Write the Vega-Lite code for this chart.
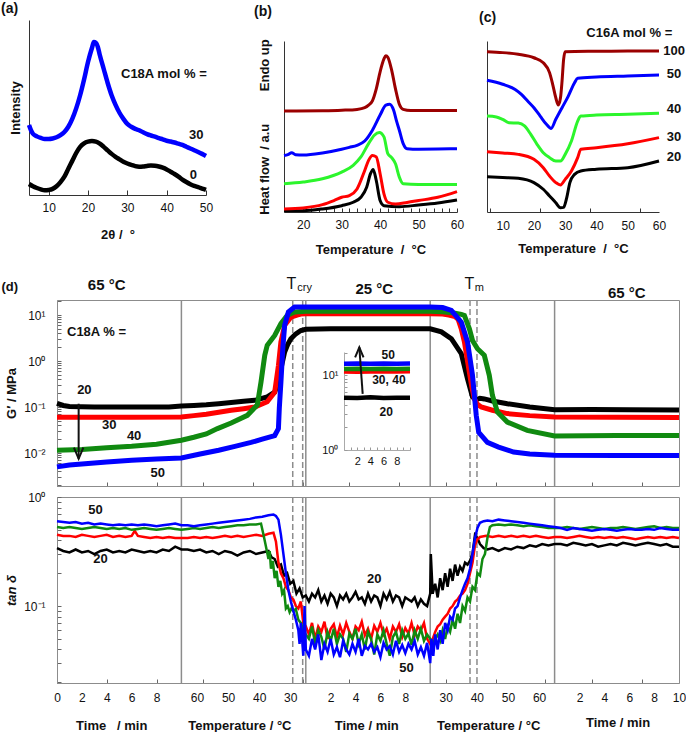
{
  "$schema": "https://vega.github.io/schema/vega-lite/v6.json",
  "background": "white",
  "padding": {"left": 0, "top": 2, "right": 4, "bottom": 4},
  "autosize": {"type": "pad"},
  "config": {
    "font": "Liberation Sans",
    "view": {"stroke": null},
    "axis": {"grid": false, "labelFont": "Liberation Sans", "labelFontSize": 12, "labelColor": "#111", "titleFont": "Liberation Sans", "titleFontSize": 13, "titleFontWeight": "bold", "titleColor": "#111", "domainColor": "#333", "tickColor": "#333", "tickSize": -4, "labelPadding": 11},
    "title": {"font": "Liberation Sans", "fontSize": 14, "fontWeight": "bold", "color": "#111", "anchor": "start", "frame": "group"},
    "text": {"font": "Liberation Sans", "fontWeight": "bold", "fontSize": 13, "color": "#111"}
  },
  "datasets": {
    "xrd": [
      {"s":"a0","x":5,"y":6.3},{"s":"a0","x":6,"y":5},{"s":"a0","x":7,"y":4},{"s":"a0","x":8,"y":3.2},{"s":"a0","x":9,"y":2.7},{"s":"a0","x":10,"y":2.9},{"s":"a0","x":11,"y":3.5},{"s":"a0","x":12,"y":5},{"s":"a0","x":13,"y":7.4},{"s":"a0","x":14,"y":10.5},{"s":"a0","x":15,"y":15},{"s":"a0","x":16,"y":19.5},{"s":"a0","x":17,"y":24},{"s":"a0","x":18,"y":27.5},{"s":"a0","x":19,"y":29.5},{"s":"a0","x":20,"y":30.5},{"s":"a0","x":21,"y":30.8},{"s":"a0","x":22,"y":30.5},{"s":"a0","x":23,"y":29.3},{"s":"a0","x":24,"y":27.5},{"s":"a0","x":25,"y":25.5},{"s":"a0","x":26,"y":23.5},{"s":"a0","x":27,"y":21.8},{"s":"a0","x":28,"y":20.4},{"s":"a0","x":29,"y":19},{"s":"a0","x":30,"y":18},{"s":"a0","x":31,"y":17.2},{"s":"a0","x":32,"y":16.5},{"s":"a0","x":33,"y":16.2},{"s":"a0","x":34,"y":16.3},{"s":"a0","x":35,"y":16.6},{"s":"a0","x":36,"y":16.8},{"s":"a0","x":37,"y":16.7},{"s":"a0","x":38,"y":16.3},{"s":"a0","x":39,"y":15.6},{"s":"a0","x":40,"y":14.6},{"s":"a0","x":41,"y":13.3},{"s":"a0","x":42,"y":12},{"s":"a0","x":43,"y":10.5},{"s":"a0","x":44,"y":8.8},{"s":"a0","x":45,"y":7.4},{"s":"a0","x":46,"y":6.2},{"s":"a0","x":47,"y":5.2},{"s":"a0","x":48,"y":4.5},{"s":"a0","x":49,"y":3.7},{"s":"a0","x":50,"y":2.9},
      {"s":"a30","x":5,"y":40},{"s":"a30","x":5.5,"y":37},{"s":"a30","x":6,"y":35},{"s":"a30","x":7,"y":33.5},{"s":"a30","x":8,"y":32.6},{"s":"a30","x":9,"y":32},{"s":"a30","x":10,"y":32},{"s":"a30","x":11,"y":32.3},{"s":"a30","x":12,"y":33},{"s":"a30","x":13,"y":34.2},{"s":"a30","x":14,"y":36},{"s":"a30","x":15,"y":39},{"s":"a30","x":16,"y":43.5},{"s":"a30","x":17,"y":49.5},{"s":"a30","x":18,"y":57},{"s":"a30","x":19,"y":66},{"s":"a30","x":20,"y":76},{"s":"a30","x":21,"y":84},{"s":"a30","x":21.5,"y":87.4},{"s":"a30","x":22,"y":87},{"s":"a30","x":22.5,"y":84.6},{"s":"a30","x":23,"y":80},{"s":"a30","x":24,"y":72},{"s":"a30","x":25,"y":64},{"s":"a30","x":26,"y":57},{"s":"a30","x":27,"y":51.5},{"s":"a30","x":28,"y":47},{"s":"a30","x":29,"y":43.5},{"s":"a30","x":30,"y":40.6},{"s":"a30","x":31,"y":39},{"s":"a30","x":32,"y":37.8},{"s":"a30","x":33,"y":37},{"s":"a30","x":34,"y":35.8},{"s":"a30","x":35,"y":34.8},{"s":"a30","x":36,"y":34},{"s":"a30","x":37,"y":33.3},{"s":"a30","x":38,"y":32.5},{"s":"a30","x":39,"y":31.8},{"s":"a30","x":40,"y":31},{"s":"a30","x":41,"y":30.6},{"s":"a30","x":42,"y":30},{"s":"a30","x":43,"y":29.3},{"s":"a30","x":44,"y":28.6},{"s":"a30","x":45,"y":27.6},{"s":"a30","x":46,"y":26.6},{"s":"a30","x":47,"y":25.6},{"s":"a30","x":48,"y":24.6},{"s":"a30","x":49,"y":23.5},{"s":"a30","x":50,"y":22.3}
    ],
    "xrdlab": [
      {"x":39.3,"y":69.1,"lab":"C18A mol % ="},{"x":47.5,"y":34.5,"lab":"30"},{"x":46.8,"y":11.3,"lab":"0"}
    ],
    "dscb": [
      {"s":"b20","x":15,"y":0.8},{"s":"b20","x":20,"y":0.8},{"s":"b20","x":25,"y":1.8},{"s":"b20","x":30,"y":3.7},{"s":"b20","x":33,"y":5.7},{"s":"b20","x":35,"y":8.6},{"s":"b20","x":36.5,"y":14.5},{"s":"b20","x":37.5,"y":22.4},{"s":"b20","x":38.2,"y":24.9},{"s":"b20","x":39,"y":18.4},{"s":"b20","x":40,"y":6.7},{"s":"b20","x":41,"y":3.7},{"s":"b20","x":45,"y":3.1},{"s":"b20","x":50,"y":4.1},{"s":"b20","x":55,"y":5.3},{"s":"b20","x":60,"y":7},
      {"s":"b30","x":15,"y":1.8},{"s":"b30","x":20,"y":2.4},{"s":"b30","x":25,"y":4.3},{"s":"b30","x":28,"y":6.7},{"s":"b30","x":30,"y":8.6},{"s":"b30","x":32,"y":9.6},{"s":"b30","x":34,"y":13.5},{"s":"b30","x":36,"y":24.3},{"s":"b30","x":37,"y":30.2},{"s":"b30","x":38,"y":33.1},{"s":"b30","x":39,"y":32.2},{"s":"b30","x":40,"y":22.4},{"s":"b30","x":41,"y":10.6},{"s":"b30","x":42,"y":5.7},{"s":"b30","x":44,"y":4.7},{"s":"b30","x":47,"y":5.6},{"s":"b30","x":50,"y":6.7},{"s":"b30","x":55,"y":8.6},{"s":"b30","x":60,"y":11.9},
      {"s":"b40","x":15,"y":16.5},{"s":"b40","x":20,"y":17.5},{"s":"b40","x":25,"y":19.4},{"s":"b40","x":30,"y":23.3},{"s":"b40","x":33,"y":27.3},{"s":"b40","x":35,"y":32.2},{"s":"b40","x":37,"y":40},{"s":"b40","x":38.5,"y":44.9},{"s":"b40","x":39.8,"y":46.5},{"s":"b40","x":41,"y":43.9},{"s":"b40","x":42,"y":34.1},{"s":"b40","x":43,"y":31.8},{"s":"b40","x":44,"y":28.2},{"s":"b40","x":45,"y":20.4},{"s":"b40","x":46,"y":16.5},{"s":"b40","x":50,"y":16.1},{"s":"b40","x":55,"y":16.1},{"s":"b40","x":60,"y":16.1},
      {"s":"b50","x":15,"y":33.1},{"s":"b50","x":16,"y":33.6},{"s":"b50","x":17,"y":34.7},{"s":"b50","x":18,"y":33.5},{"s":"b50","x":20,"y":33.3},{"s":"b50","x":25,"y":34.5},{"s":"b50","x":30,"y":36.7},{"s":"b50","x":32,"y":37.8},{"s":"b50","x":34,"y":39},{"s":"b50","x":36,"y":41.5},{"s":"b50","x":38,"y":47.8},{"s":"b50","x":40,"y":56.7},{"s":"b50","x":41.5,"y":62.5},{"s":"b50","x":42.5,"y":63},{"s":"b50","x":43.5,"y":59.6},{"s":"b50","x":44.3,"y":53},{"s":"b50","x":45,"y":47.8},{"s":"b50","x":46,"y":40},{"s":"b50","x":47,"y":37},{"s":"b50","x":50,"y":36.7},{"s":"b50","x":55,"y":36.8},{"s":"b50","x":60,"y":37},
      {"s":"b100","x":15,"y":59},{"s":"b100","x":25,"y":59.2},{"s":"b100","x":30,"y":59.5},{"s":"b100","x":34,"y":60},{"s":"b100","x":36,"y":61},{"s":"b100","x":37,"y":62.5},{"s":"b100","x":38,"y":65},{"s":"b100","x":39,"y":72},{"s":"b100","x":40,"y":82},{"s":"b100","x":41,"y":89.5},{"s":"b100","x":41.5,"y":91.4},{"s":"b100","x":42,"y":90.5},{"s":"b100","x":43,"y":83},{"s":"b100","x":44,"y":72},{"s":"b100","x":45,"y":63},{"s":"b100","x":46,"y":60},{"s":"b100","x":48,"y":59.3},{"s":"b100","x":52,"y":59.3},{"s":"b100","x":56,"y":59.3},{"s":"b100","x":60,"y":59.3}
    ],
    "dscc": [
      {"s":"b20","x":5,"y":20.6},{"s":"b20","x":10,"y":20.2},{"s":"b20","x":15,"y":19.7},{"s":"b20","x":20,"y":17.2},{"s":"b20","x":23,"y":13.3},{"s":"b20","x":25,"y":9.4},{"s":"b20","x":27,"y":5.4},{"s":"b20","x":28.5,"y":2.5},{"s":"b20","x":29.5,"y":2.7},{"s":"b20","x":30.5,"y":8.4},{"s":"b20","x":31.5,"y":17.2},{"s":"b20","x":33,"y":22},{"s":"b20","x":35,"y":24},{"s":"b20","x":40,"y":25},{"s":"b20","x":50,"y":25.9},{"s":"b20","x":60,"y":29.8},
      {"s":"b30","x":5,"y":35.3},{"s":"b30","x":10,"y":34.5},{"s":"b30","x":15,"y":33.7},{"s":"b30","x":20,"y":30.8},{"s":"b30","x":23,"y":25.9},{"s":"b30","x":25,"y":21},{"s":"b30","x":27,"y":17.2},{"s":"b30","x":28.5,"y":15.8},{"s":"b30","x":30,"y":19.1},{"s":"b30","x":32,"y":24},{"s":"b30","x":34,"y":31.8},{"s":"b30","x":35,"y":36.7},{"s":"b30","x":40,"y":37.6},{"s":"b30","x":50,"y":39.9},{"s":"b30","x":60,"y":43.5},
      {"s":"b40","x":5,"y":56.1},{"s":"b40","x":8,"y":55.6},{"s":"b40","x":10,"y":54.2},{"s":"b40","x":12,"y":52.2},{"s":"b40","x":15,"y":52},{"s":"b40","x":17,"y":50.3},{"s":"b40","x":19,"y":45.4},{"s":"b40","x":21,"y":39.6},{"s":"b40","x":23,"y":34.7},{"s":"b40","x":25,"y":31.8},{"s":"b40","x":27,"y":29.8},{"s":"b40","x":28.5,"y":29.8},{"s":"b40","x":30,"y":33.7},{"s":"b40","x":32,"y":41.5},{"s":"b40","x":34,"y":53.2},{"s":"b40","x":35,"y":56.1},{"s":"b40","x":40,"y":56.7},{"s":"b40","x":50,"y":57.1},{"s":"b40","x":60,"y":57.7},
      {"s":"b50","x":5,"y":77},{"s":"b50","x":10,"y":74.7},{"s":"b50","x":14,"y":71.7},{"s":"b50","x":16,"y":68.8},{"s":"b50","x":18,"y":64.9},{"s":"b50","x":20,"y":61},{"s":"b50","x":22,"y":56.1},{"s":"b50","x":24,"y":51.3},{"s":"b50","x":25.5,"y":48.9},{"s":"b50","x":27,"y":54.2},{"s":"b50","x":29,"y":61},{"s":"b50","x":31,"y":67.8},{"s":"b50","x":33,"y":75.6},{"s":"b50","x":34,"y":78.2},{"s":"b50","x":40,"y":78.9},{"s":"b50","x":50,"y":79.5},{"s":"b50","x":60,"y":80.1},
      {"s":"b100","x":5,"y":93.7},{"s":"b100","x":10,"y":93.2},{"s":"b100","x":15,"y":92.2},{"s":"b100","x":20,"y":90.2},{"s":"b100","x":23,"y":87.3},{"s":"b100","x":25,"y":81.5},{"s":"b100","x":26,"y":74.7},{"s":"b100","x":27,"y":66.8},{"s":"b100","x":27.8,"y":62.6},{"s":"b100","x":28.5,"y":66.8},{"s":"b100","x":29,"y":76.6},{"s":"b100","x":29.5,"y":89.3},{"s":"b100","x":30,"y":93.7},{"s":"b100","x":40,"y":94},{"s":"b100","x":50,"y":94.2},{"s":"b100","x":60,"y":94.2}
    ],
    "dsclab": [
      {"x":64.8,"y":94.2,"lab":"100"},{"x":64.8,"y":80.7,"lab":"50"},{"x":64.8,"y":60.2,"lab":"40"},{"x":64.8,"y":43.9,"lab":"30"},{"x":64.8,"y":32.2,"lab":"20"},{"x":50.5,"y":104.7,"lab":"C16A mol % ="}
    ],
    "bnd": [{"u":10},{"u":20},{"u":30},{"u":40}],
    "dsh": [{"u":18.95},{"u":19.75},{"u":33.2},{"u":33.76}],
    "gp": [
      {"s":"d20","u":0,"g":0.12},{"s":"d20","u":0.5,"g":0.108},{"s":"d20","u":1,"g":0.103},{"s":"d20","u":2,"g":0.101},{"s":"d20","u":3,"g":0.1},{"s":"d20","u":5,"g":0.1},{"s":"d20","u":7,"g":0.1},{"s":"d20","u":9,"g":0.1},{"s":"d20","u":10,"g":0.105},{"s":"d20","u":11,"g":0.108},{"s":"d20","u":12,"g":0.112},{"s":"d20","u":13,"g":0.118},{"s":"d20","u":14,"g":0.125},{"s":"d20","u":15,"g":0.133},{"s":"d20","u":15.9,"g":0.14},{"s":"d20","u":16.9,"g":0.166},{"s":"d20","u":17.5,"g":0.21},{"s":"d20","u":17.75,"g":0.33},{"s":"d20","u":18,"g":0.68},{"s":"d20","u":18.3,"g":1.57},{"s":"d20","u":18.55,"g":2.3},{"s":"d20","u":18.8,"g":3.05},{"s":"d20","u":19.2,"g":3.9},{"s":"d20","u":19.6,"g":4.6},{"s":"d20","u":20,"g":4.9},{"s":"d20","u":22,"g":5},{"s":"d20","u":25,"g":5},{"s":"d20","u":28,"g":5},{"s":"d20","u":30,"g":5},{"s":"d20","u":30.9,"g":4.3},{"s":"d20","u":31.7,"g":3.05},{"s":"d20","u":32.5,"g":1.44},{"s":"d20","u":33,"g":0.41},{"s":"d20","u":33.4,"g":0.166},{"s":"d20","u":33.7,"g":0.145},{"s":"d20","u":34,"g":0.155},{"s":"d20","u":34.35,"g":0.15},{"s":"d20","u":35,"g":0.135},{"s":"d20","u":36.2,"g":0.118},{"s":"d20","u":38,"g":0.1},{"s":"d20","u":40,"g":0.087},{"s":"d20","u":43,"g":0.088},{"s":"d20","u":46,"g":0.087},{"s":"d20","u":50,"g":0.086},
      {"s":"d30","u":0,"g":0.06},{"s":"d30","u":3,"g":0.06},{"s":"d30","u":6,"g":0.06},{"s":"d30","u":10,"g":0.061},{"s":"d30","u":11,"g":0.065},{"s":"d30","u":12,"g":0.07},{"s":"d30","u":13,"g":0.077},{"s":"d30","u":14,"g":0.085},{"s":"d30","u":15,"g":0.092},{"s":"d30","u":15.9,"g":0.1},{"s":"d30","u":16.9,"g":0.13},{"s":"d30","u":17.5,"g":0.21},{"s":"d30","u":17.8,"g":0.8},{"s":"d30","u":18,"g":2.6},{"s":"d30","u":18.3,"g":6},{"s":"d30","u":18.8,"g":9},{"s":"d30","u":19.3,"g":10},{"s":"d30","u":19.6,"g":10.5},{"s":"d30","u":20,"g":10.7},{"s":"d30","u":25,"g":10.7},{"s":"d30","u":30,"g":10.7},{"s":"d30","u":31,"g":10.5},{"s":"d30","u":31.5,"g":10},{"s":"d30","u":32,"g":9.2},{"s":"d30","u":32.25,"g":8},{"s":"d30","u":32.5,"g":5},{"s":"d30","u":32.75,"g":2.6},{"s":"d30","u":33,"g":1},{"s":"d30","u":33.15,"g":0.57},{"s":"d30","u":33.35,"g":0.27},{"s":"d30","u":33.55,"g":0.15},{"s":"d30","u":33.8,"g":0.115},{"s":"d30","u":34.1,"g":0.1},{"s":"d30","u":35,"g":0.085},{"s":"d30","u":36.2,"g":0.072},{"s":"d30","u":38,"g":0.065},{"s":"d30","u":40,"g":0.061},{"s":"d30","u":45,"g":0.06},{"s":"d30","u":50,"g":0.059},
      {"s":"d40","u":0,"g":0.0115},{"s":"d40","u":2,"g":0.012},{"s":"d40","u":4,"g":0.013},{"s":"d40","u":6,"g":0.014},{"s":"d40","u":8,"g":0.0155},{"s":"d40","u":10,"g":0.019},{"s":"d40","u":11,"g":0.022},{"s":"d40","u":12,"g":0.026},{"s":"d40","u":12.9,"g":0.034},{"s":"d40","u":14,"g":0.045},{"s":"d40","u":15.3,"g":0.066},{"s":"d40","u":16.1,"g":0.11},{"s":"d40","u":16.4,"g":0.35},{"s":"d40","u":16.7,"g":1.33},{"s":"d40","u":16.9,"g":2.2},{"s":"d40","u":17.5,"g":3.6},{"s":"d40","u":18,"g":6.5},{"s":"d40","u":18.5,"g":9.8},{"s":"d40","u":19.1,"g":11.6},{"s":"d40","u":20,"g":12},{"s":"d40","u":25,"g":12},{"s":"d40","u":30,"g":12},{"s":"d40","u":31,"g":11.8},{"s":"d40","u":32,"g":11},{"s":"d40","u":32.5,"g":10.3},{"s":"d40","u":32.75,"g":9.8},{"s":"d40","u":33.15,"g":5},{"s":"d40","u":33.4,"g":2.8},{"s":"d40","u":33.8,"g":1.85},{"s":"d40","u":34.35,"g":1.33},{"s":"d40","u":34.75,"g":0.49},{"s":"d40","u":35,"g":0.18},{"s":"d40","u":35.4,"g":0.078},{"s":"d40","u":36.2,"g":0.047},{"s":"d40","u":37.8,"g":0.031},{"s":"d40","u":40,"g":0.0234},{"s":"d40","u":45,"g":0.024},{"s":"d40","u":50,"g":0.024},
      {"s":"d50","u":0,"g":0.005},{"s":"d50","u":1,"g":0.0055},{"s":"d50","u":2,"g":0.0058},{"s":"d50","u":4,"g":0.0064},{"s":"d50","u":6,"g":0.007},{"s":"d50","u":8,"g":0.0074},{"s":"d50","u":10,"g":0.0078},{"s":"d50","u":11.5,"g":0.0095},{"s":"d50","u":13,"g":0.0115},{"s":"d50","u":14.3,"g":0.014},{"s":"d50","u":15.6,"g":0.017},{"s":"d50","u":16.5,"g":0.02},{"s":"d50","u":17.5,"g":0.024},{"s":"d50","u":17.8,"g":0.034},{"s":"d50","u":17.87,"g":0.093},{"s":"d50","u":18,"g":0.35},{"s":"d50","u":18.15,"g":1.85},{"s":"d50","u":18.3,"g":6},{"s":"d50","u":18.6,"g":11.6},{"s":"d50","u":19.1,"g":15},{"s":"d50","u":20,"g":15},{"s":"d50","u":25,"g":15},{"s":"d50","u":30,"g":15},{"s":"d50","u":31,"g":14.5},{"s":"d50","u":31.7,"g":12.6},{"s":"d50","u":32.5,"g":7},{"s":"d50","u":33,"g":2.6},{"s":"d50","u":33.4,"g":0.49},{"s":"d50","u":33.7,"g":0.066},{"s":"d50","u":33.9,"g":0.028},{"s":"d50","u":34.6,"g":0.017},{"s":"d50","u":35.5,"g":0.0135},{"s":"d50","u":36.7,"g":0.0105},{"s":"d50","u":38,"g":0.0095},{"s":"d50","u":40,"g":0.0089},{"s":"d50","u":45,"g":0.0088},{"s":"d50","u":50,"g":0.0088}
    ],
    "glab": [
      {"u":3.18,"g":4.27,"lab":"C18A % ="},{"u":2.2,"g":0.23,"lab":"20"},{"u":4.2,"g":0.041,"lab":"30"},{"u":6.2,"g":0.0234,"lab":"40"},{"u":8.1,"g":0.00367,"lab":"50"},{"u":-3.8,"g":41,"lab":"(d)"}
    ],
    "gtop": [
      {"u":3.99,"g":44.9,"lab":"65 °C","k":"c"},{"u":25.5,"g":37.3,"lab":"25 °C","k":"c"},{"u":45.8,"g":30.1,"lab":"65 °C","k":"c"},
      {"u":18.85,"g":47.2,"lab":"T","k":"T"},{"u":33.15,"g":47.2,"lab":"T","k":"T"},
      {"u":19.9,"g":37.7,"lab":"cry","k":"sub"},{"u":33.95,"g":37.7,"lab":"m","k":"sub"}
    ],
    "garrow": [{"u":1.74,"g":0.118,"g2":0.0075}],
    "ins": [
      {"s":"d20","t":0,"g":5.0},{"s":"d20","t":2,"g":4.95},{"s":"d20","t":4,"g":5.05},{"s":"d20","t":6,"g":4.95},{"s":"d20","t":8,"g":5.0},{"s":"d20","t":10,"g":5.0},
      {"s":"d30","t":0,"g":11.2},{"s":"d30","t":2,"g":11.1},{"s":"d30","t":4,"g":11.2},{"s":"d30","t":6,"g":11.3},{"s":"d30","t":8,"g":11.2},{"s":"d30","t":10,"g":11.3},
      {"s":"d40","t":0,"g":12.1},{"s":"d40","t":2,"g":12.2},{"s":"d40","t":4,"g":12.1},{"s":"d40","t":6,"g":12.2},{"s":"d40","t":8,"g":12.1},{"s":"d40","t":10,"g":12.2},
      {"s":"d50","t":0,"g":14.2},{"s":"d50","t":2,"g":14.3},{"s":"d50","t":4,"g":14.2},{"s":"d50","t":6,"g":14.3},{"s":"d50","t":8,"g":14.2},{"s":"d50","t":10,"g":14.3}
    ],
    "insarrow": [{"t":2.83,"g":5.63,"t2":2.32,"g2":23.6}],
    "inslab": [{"t":6.7,"g":18.5,"lab":"50"},{"t":6.8,"g":8.6,"lab":"30, 40"},{"t":6.4,"g":3.2,"lab":"20"}],
    "td": [
      {"s":"d20","u":0,"y":0.34},{"s":"d20","u":0.5,"y":0.32},{"s":"d20","u":1,"y":0.31},{"s":"d20","u":1.5,"y":0.33},{"s":"d20","u":2,"y":0.31},{"s":"d20","u":2.5,"y":0.32},{"s":"d20","u":3,"y":0.3},{"s":"d20","u":3.5,"y":0.32},{"s":"d20","u":4,"y":0.33},{"s":"d20","u":4.5,"y":0.31},{"s":"d20","u":5,"y":0.32},{"s":"d20","u":5.5,"y":0.31},{"s":"d20","u":6,"y":0.33},{"s":"d20","u":6.5,"y":0.32},{"s":"d20","u":7,"y":0.31},{"s":"d20","u":7.5,"y":0.32},{"s":"d20","u":8,"y":0.31},{"s":"d20","u":8.5,"y":0.33},{"s":"d20","u":9,"y":0.32},{"s":"d20","u":9.5,"y":0.35},{"s":"d20","u":10,"y":0.33},
      {"s":"d20","u":10.5,"y":0.33},{"s":"d20","u":11,"y":0.32},{"s":"d20","u":11.5,"y":0.33},{"s":"d20","u":12,"y":0.31},{"s":"d20","u":12.5,"y":0.32},{"s":"d20","u":13,"y":0.3},{"s":"d20","u":13.5,"y":0.32},{"s":"d20","u":14,"y":0.31},{"s":"d20","u":14.5,"y":0.29},{"s":"d20","u":15,"y":0.31},{"s":"d20","u":15.5,"y":0.32},{"s":"d20","u":16,"y":0.3},{"s":"d20","u":16.5,"y":0.31},{"s":"d20","u":17,"y":0.32},{"s":"d20","u":17.25,"y":0.28},{"s":"d20","u":17.5,"y":0.27},{"s":"d20","u":17.75,"y":0.23},{"s":"d20","u":18,"y":0.24},{"s":"d20","u":18.25,"y":0.19},{"s":"d20","u":18.5,"y":0.2},{"s":"d20","u":18.75,"y":0.16},{"s":"d20","u":19,"y":0.17},{"s":"d20","u":19.25,"y":0.13},{"s":"d20","u":19.5,"y":0.145},{"s":"d20","u":19.75,"y":0.12},{"s":"d20","u":20,"y":0.125},
      {"s":"d20","u":20.25,"y":0.11},{"s":"d20","u":20.5,"y":0.13},{"s":"d20","u":20.75,"y":0.12},{"s":"d20","u":21,"y":0.14},{"s":"d20","u":21.25,"y":0.11},{"s":"d20","u":21.5,"y":0.125},{"s":"d20","u":21.75,"y":0.105},{"s":"d20","u":22,"y":0.13},{"s":"d20","u":22.25,"y":0.12},{"s":"d20","u":22.5,"y":0.1},{"s":"d20","u":22.75,"y":0.125},{"s":"d20","u":23,"y":0.115},{"s":"d20","u":23.25,"y":0.13},{"s":"d20","u":23.5,"y":0.11},{"s":"d20","u":23.75,"y":0.12},{"s":"d20","u":24,"y":0.135},{"s":"d20","u":24.25,"y":0.115},{"s":"d20","u":24.5,"y":0.12},{"s":"d20","u":24.75,"y":0.105},{"s":"d20","u":25,"y":0.13},{"s":"d20","u":25.25,"y":0.11},{"s":"d20","u":25.5,"y":0.125},{"s":"d20","u":25.75,"y":0.12},{"s":"d20","u":26,"y":0.1},{"s":"d20","u":26.25,"y":0.13},{"s":"d20","u":26.5,"y":0.115},{"s":"d20","u":26.75,"y":0.135},{"s":"d20","u":27,"y":0.11},{"s":"d20","u":27.25,"y":0.125},{"s":"d20","u":27.5,"y":0.12},{"s":"d20","u":27.75,"y":0.1},{"s":"d20","u":28,"y":0.12},{"s":"d20","u":28.25,"y":0.115},{"s":"d20","u":28.5,"y":0.11},{"s":"d20","u":28.75,"y":0.12},{"s":"d20","u":29,"y":0.1},{"s":"d20","u":29.25,"y":0.115},{"s":"d20","u":29.5,"y":0.105},{"s":"d20","u":29.75,"y":0.1},{"s":"d20","u":30,"y":0.13},
      {"s":"d20","u":30.05,"y":0.3},{"s":"d20","u":30.2,"y":0.13},{"s":"d20","u":30.4,"y":0.16},{"s":"d20","u":30.6,"y":0.12},{"s":"d20","u":30.8,"y":0.18},{"s":"d20","u":31,"y":0.14},{"s":"d20","u":31.2,"y":0.2},{"s":"d20","u":31.4,"y":0.15},{"s":"d20","u":31.6,"y":0.22},{"s":"d20","u":31.8,"y":0.17},{"s":"d20","u":32,"y":0.24},{"s":"d20","u":32.2,"y":0.19},{"s":"d20","u":32.4,"y":0.23},{"s":"d20","u":32.6,"y":0.21},{"s":"d20","u":32.8,"y":0.25},{"s":"d20","u":33,"y":0.24},{"s":"d20","u":33.2,"y":0.26},{"s":"d20","u":33.4,"y":0.3},{"s":"d20","u":33.6,"y":0.45},{"s":"d20","u":33.8,"y":0.42},{"s":"d20","u":34,"y":0.37},{"s":"d20","u":34.3,"y":0.34},{"s":"d20","u":34.6,"y":0.33},{"s":"d20","u":35,"y":0.34},{"s":"d20","u":35.5,"y":0.32},{"s":"d20","u":36,"y":0.34},{"s":"d20","u":36.5,"y":0.33},{"s":"d20","u":37,"y":0.35},{"s":"d20","u":37.5,"y":0.34},{"s":"d20","u":38,"y":0.36},{"s":"d20","u":38.5,"y":0.35},{"s":"d20","u":39,"y":0.37},{"s":"d20","u":39.5,"y":0.36},{"s":"d20","u":40,"y":0.37},
      {"s":"d20","u":40.5,"y":0.37},{"s":"d20","u":41,"y":0.36},{"s":"d20","u":41.5,"y":0.38},{"s":"d20","u":42,"y":0.37},{"s":"d20","u":42.5,"y":0.36},{"s":"d20","u":43,"y":0.37},{"s":"d20","u":43.5,"y":0.35},{"s":"d20","u":44,"y":0.36},{"s":"d20","u":44.5,"y":0.37},{"s":"d20","u":45,"y":0.36},{"s":"d20","u":45.5,"y":0.38},{"s":"d20","u":46,"y":0.37},{"s":"d20","u":46.5,"y":0.36},{"s":"d20","u":47,"y":0.37},{"s":"d20","u":47.5,"y":0.38},{"s":"d20","u":48,"y":0.37},{"s":"d20","u":48.5,"y":0.36},{"s":"d20","u":49,"y":0.37},{"s":"d20","u":49.5,"y":0.35},{"s":"d20","u":50,"y":0.35},

      {"s":"d30","u":0,"y":0.45},{"s":"d30","u":0.5,"y":0.44},{"s":"d30","u":1,"y":0.44},{"s":"d30","u":1.5,"y":0.43},{"s":"d30","u":2,"y":0.45},{"s":"d30","u":2.5,"y":0.44},{"s":"d30","u":3,"y":0.43},{"s":"d30","u":3.5,"y":0.44},{"s":"d30","u":4,"y":0.45},{"s":"d30","u":4.5,"y":0.43},{"s":"d30","u":5,"y":0.44},{"s":"d30","u":5.5,"y":0.43},{"s":"d30","u":6,"y":0.44},{"s":"d30","u":6.25,"y":0.49},{"s":"d30","u":6.5,"y":0.44},{"s":"d30","u":7,"y":0.43},{"s":"d30","u":7.5,"y":0.42},{"s":"d30","u":8,"y":0.43},{"s":"d30","u":8.5,"y":0.42},{"s":"d30","u":9,"y":0.43},{"s":"d30","u":9.5,"y":0.42},{"s":"d30","u":10,"y":0.42},
      {"s":"d30","u":10.5,"y":0.42},{"s":"d30","u":11,"y":0.43},{"s":"d30","u":11.5,"y":0.42},{"s":"d30","u":12,"y":0.43},{"s":"d30","u":12.5,"y":0.42},{"s":"d30","u":13,"y":0.43},{"s":"d30","u":13.5,"y":0.44},{"s":"d30","u":14,"y":0.43},{"s":"d30","u":14.5,"y":0.44},{"s":"d30","u":15,"y":0.43},{"s":"d30","u":15.5,"y":0.44},{"s":"d30","u":16,"y":0.45},{"s":"d30","u":16.5,"y":0.44},{"s":"d30","u":17,"y":0.46},{"s":"d30","u":17.4,"y":0.47},{"s":"d30","u":17.6,"y":0.39},{"s":"d30","u":17.8,"y":0.25},{"s":"d30","u":18,"y":0.2},{"s":"d30","u":18.2,"y":0.18},{"s":"d30","u":18.4,"y":0.15},{"s":"d30","u":18.6,"y":0.14},{"s":"d30","u":18.8,"y":0.12},{"s":"d30","u":19,"y":0.115},{"s":"d30","u":19.2,"y":0.1},{"s":"d30","u":19.4,"y":0.095},{"s":"d30","u":19.6,"y":0.11},{"s":"d30","u":19.8,"y":0.07},{"s":"d30","u":20,"y":0.065},
      {"s":"d30","u":20.25,"y":0.055},{"s":"d30","u":20.5,"y":0.07},{"s":"d30","u":20.75,"y":0.05},{"s":"d30","u":21,"y":0.065},{"s":"d30","u":21.25,"y":0.058},{"s":"d30","u":21.5,"y":0.072},{"s":"d30","u":21.75,"y":0.05},{"s":"d30","u":22,"y":0.062},{"s":"d30","u":22.25,"y":0.068},{"s":"d30","u":22.5,"y":0.052},{"s":"d30","u":22.75,"y":0.066},{"s":"d30","u":23,"y":0.055},{"s":"d30","u":23.25,"y":0.07},{"s":"d30","u":23.5,"y":0.058},{"s":"d30","u":23.75,"y":0.05},{"s":"d30","u":24,"y":0.065},{"s":"d30","u":24.25,"y":0.06},{"s":"d30","u":24.5,"y":0.072},{"s":"d30","u":24.75,"y":0.054},{"s":"d30","u":25,"y":0.062},{"s":"d30","u":25.25,"y":0.05},{"s":"d30","u":25.5,"y":0.066},{"s":"d30","u":25.75,"y":0.058},{"s":"d30","u":26,"y":0.07},{"s":"d30","u":26.25,"y":0.055},{"s":"d30","u":26.5,"y":0.062},{"s":"d30","u":26.75,"y":0.05},{"s":"d30","u":27,"y":0.065},{"s":"d30","u":27.25,"y":0.058},{"s":"d30","u":27.5,"y":0.068},{"s":"d30","u":27.75,"y":0.052},{"s":"d30","u":28,"y":0.063},{"s":"d30","u":28.25,"y":0.056},{"s":"d30","u":28.5,"y":0.07},{"s":"d30","u":28.75,"y":0.054},{"s":"d30","u":29,"y":0.065},{"s":"d30","u":29.25,"y":0.06},{"s":"d30","u":29.5,"y":0.07},{"s":"d30","u":29.75,"y":0.05},{"s":"d30","u":30,"y":0.045},
      {"s":"d30","u":30.2,"y":0.05},{"s":"d30","u":30.4,"y":0.058},{"s":"d30","u":30.6,"y":0.065},{"s":"d30","u":30.8,"y":0.068},{"s":"d30","u":31,"y":0.075},{"s":"d30","u":31.2,"y":0.08},{"s":"d30","u":31.4,"y":0.085},{"s":"d30","u":31.6,"y":0.095},{"s":"d30","u":31.8,"y":0.1},{"s":"d30","u":32,"y":0.11},{"s":"d30","u":32.2,"y":0.115},{"s":"d30","u":32.4,"y":0.125},{"s":"d30","u":32.6,"y":0.13},{"s":"d30","u":32.8,"y":0.14},{"s":"d30","u":33,"y":0.16},{"s":"d30","u":33.2,"y":0.2},{"s":"d30","u":33.4,"y":0.25},{"s":"d30","u":33.6,"y":0.36},{"s":"d30","u":33.8,"y":0.41},{"s":"d30","u":34,"y":0.43},{"s":"d30","u":34.5,"y":0.44},{"s":"d30","u":35,"y":0.43},{"s":"d30","u":35.5,"y":0.44},{"s":"d30","u":36,"y":0.43},{"s":"d30","u":36.5,"y":0.44},{"s":"d30","u":37,"y":0.43},{"s":"d30","u":37.5,"y":0.44},{"s":"d30","u":38,"y":0.43},{"s":"d30","u":38.5,"y":0.44},{"s":"d30","u":39,"y":0.43},{"s":"d30","u":39.5,"y":0.42},{"s":"d30","u":40,"y":0.43},
      {"s":"d30","u":40.5,"y":0.43},{"s":"d30","u":41,"y":0.42},{"s":"d30","u":41.5,"y":0.43},{"s":"d30","u":42,"y":0.44},{"s":"d30","u":42.5,"y":0.43},{"s":"d30","u":43,"y":0.42},{"s":"d30","u":43.5,"y":0.43},{"s":"d30","u":44,"y":0.42},{"s":"d30","u":44.5,"y":0.43},{"s":"d30","u":45,"y":0.42},{"s":"d30","u":45.5,"y":0.43},{"s":"d30","u":46,"y":0.42},{"s":"d30","u":46.5,"y":0.41},{"s":"d30","u":47,"y":0.42},{"s":"d30","u":47.5,"y":0.43},{"s":"d30","u":48,"y":0.42},{"s":"d30","u":48.5,"y":0.43},{"s":"d30","u":49,"y":0.42},{"s":"d30","u":49.5,"y":0.43},{"s":"d30","u":50,"y":0.42},

      {"s":"d40","u":0,"y":0.53},{"s":"d40","u":0.5,"y":0.52},{"s":"d40","u":1,"y":0.53},{"s":"d40","u":1.5,"y":0.52},{"s":"d40","u":2,"y":0.51},{"s":"d40","u":2.5,"y":0.52},{"s":"d40","u":3,"y":0.53},{"s":"d40","u":3.5,"y":0.52},{"s":"d40","u":4,"y":0.51},{"s":"d40","u":4.5,"y":0.52},{"s":"d40","u":5,"y":0.51},{"s":"d40","u":5.5,"y":0.52},{"s":"d40","u":6,"y":0.5},{"s":"d40","u":6.5,"y":0.51},{"s":"d40","u":7,"y":0.52},{"s":"d40","u":7.5,"y":0.51},{"s":"d40","u":8,"y":0.5},{"s":"d40","u":8.5,"y":0.51},{"s":"d40","u":9,"y":0.52},{"s":"d40","u":9.5,"y":0.51},{"s":"d40","u":10,"y":0.5},
      {"s":"d40","u":10.5,"y":0.51},{"s":"d40","u":11,"y":0.52},{"s":"d40","u":11.5,"y":0.51},{"s":"d40","u":12,"y":0.52},{"s":"d40","u":12.5,"y":0.53},{"s":"d40","u":13,"y":0.52},{"s":"d40","u":13.5,"y":0.53},{"s":"d40","u":14,"y":0.54},{"s":"d40","u":14.5,"y":0.55},{"s":"d40","u":15,"y":0.55},{"s":"d40","u":15.5,"y":0.56},{"s":"d40","u":16,"y":0.56},{"s":"d40","u":16.4,"y":0.57},{"s":"d40","u":16.6,"y":0.45},{"s":"d40","u":16.8,"y":0.35},{"s":"d40","u":17,"y":0.27},{"s":"d40","u":17.1,"y":0.32},{"s":"d40","u":17.2,"y":0.22},{"s":"d40","u":17.35,"y":0.26},{"s":"d40","u":17.5,"y":0.18},{"s":"d40","u":17.65,"y":0.21},{"s":"d40","u":17.8,"y":0.15},{"s":"d40","u":17.95,"y":0.17},{"s":"d40","u":18.1,"y":0.13},{"s":"d40","u":18.25,"y":0.14},{"s":"d40","u":18.4,"y":0.095},{"s":"d40","u":18.55,"y":0.1},{"s":"d40","u":18.7,"y":0.088},{"s":"d40","u":18.85,"y":0.095},{"s":"d40","u":19,"y":0.09},{"s":"d40","u":19.2,"y":0.094},{"s":"d40","u":19.4,"y":0.075},{"s":"d40","u":19.6,"y":0.07},{"s":"d40","u":19.8,"y":0.06},{"s":"d40","u":20,"y":0.055},
      {"s":"d40","u":20.25,"y":0.05},{"s":"d40","u":20.5,"y":0.065},{"s":"d40","u":20.75,"y":0.045},{"s":"d40","u":21,"y":0.06},{"s":"d40","u":21.25,"y":0.052},{"s":"d40","u":21.5,"y":0.04},{"s":"d40","u":21.75,"y":0.058},{"s":"d40","u":22,"y":0.048},{"s":"d40","u":22.25,"y":0.062},{"s":"d40","u":22.5,"y":0.045},{"s":"d40","u":22.75,"y":0.055},{"s":"d40","u":23,"y":0.05},{"s":"d40","u":23.25,"y":0.038},{"s":"d40","u":23.5,"y":0.056},{"s":"d40","u":23.75,"y":0.05},{"s":"d40","u":24,"y":0.062},{"s":"d40","u":24.25,"y":0.045},{"s":"d40","u":24.5,"y":0.055},{"s":"d40","u":24.75,"y":0.04},{"s":"d40","u":25,"y":0.058},{"s":"d40","u":25.25,"y":0.05},{"s":"d40","u":25.5,"y":0.036},{"s":"d40","u":25.75,"y":0.055},{"s":"d40","u":26,"y":0.048},{"s":"d40","u":26.25,"y":0.06},{"s":"d40","u":26.5,"y":0.045},{"s":"d40","u":26.75,"y":0.035},{"s":"d40","u":27,"y":0.052},{"s":"d40","u":27.25,"y":0.058},{"s":"d40","u":27.5,"y":0.045},{"s":"d40","u":27.75,"y":0.06},{"s":"d40","u":28,"y":0.05},{"s":"d40","u":28.25,"y":0.056},{"s":"d40","u":28.5,"y":0.044},{"s":"d40","u":28.75,"y":0.06},{"s":"d40","u":29,"y":0.05},{"s":"d40","u":29.25,"y":0.062},{"s":"d40","u":29.5,"y":0.048},{"s":"d40","u":29.75,"y":0.055},{"s":"d40","u":30,"y":0.05},
      {"s":"d40","u":30.2,"y":0.045},{"s":"d40","u":30.4,"y":0.05},{"s":"d40","u":30.6,"y":0.055},{"s":"d40","u":30.8,"y":0.048},{"s":"d40","u":31,"y":0.06},{"s":"d40","u":31.2,"y":0.05},{"s":"d40","u":31.4,"y":0.065},{"s":"d40","u":31.6,"y":0.058},{"s":"d40","u":31.8,"y":0.075},{"s":"d40","u":32,"y":0.062},{"s":"d40","u":32.2,"y":0.085},{"s":"d40","u":32.4,"y":0.07},{"s":"d40","u":32.6,"y":0.1},{"s":"d40","u":32.8,"y":0.09},{"s":"d40","u":33,"y":0.12},{"s":"d40","u":33.2,"y":0.11},{"s":"d40","u":33.4,"y":0.15},{"s":"d40","u":33.6,"y":0.14},{"s":"d40","u":33.8,"y":0.2},{"s":"d40","u":34,"y":0.19},{"s":"d40","u":34.2,"y":0.27},{"s":"d40","u":34.4,"y":0.3},{"s":"d40","u":34.6,"y":0.42},{"s":"d40","u":34.8,"y":0.53},{"s":"d40","u":35,"y":0.55},{"s":"d40","u":35.5,"y":0.56},{"s":"d40","u":36,"y":0.55},{"s":"d40","u":36.5,"y":0.56},{"s":"d40","u":37,"y":0.55},{"s":"d40","u":37.5,"y":0.54},{"s":"d40","u":38,"y":0.55},{"s":"d40","u":38.5,"y":0.54},{"s":"d40","u":39,"y":0.53},{"s":"d40","u":39.5,"y":0.52},{"s":"d40","u":40,"y":0.52},
      {"s":"d40","u":40.5,"y":0.52},{"s":"d40","u":41,"y":0.53},{"s":"d40","u":41.5,"y":0.52},{"s":"d40","u":42,"y":0.51},{"s":"d40","u":42.5,"y":0.52},{"s":"d40","u":43,"y":0.53},{"s":"d40","u":43.5,"y":0.52},{"s":"d40","u":44,"y":0.51},{"s":"d40","u":44.5,"y":0.52},{"s":"d40","u":45,"y":0.52},{"s":"d40","u":45.5,"y":0.53},{"s":"d40","u":46,"y":0.52},{"s":"d40","u":46.5,"y":0.51},{"s":"d40","u":47,"y":0.52},{"s":"d40","u":47.5,"y":0.53},{"s":"d40","u":48,"y":0.54},{"s":"d40","u":48.5,"y":0.52},{"s":"d40","u":49,"y":0.53},{"s":"d40","u":49.5,"y":0.52},{"s":"d40","u":50,"y":0.52},

      {"s":"d50","u":0,"y":0.6},{"s":"d50","u":0.5,"y":0.59},{"s":"d50","u":1,"y":0.58},{"s":"d50","u":1.5,"y":0.59},{"s":"d50","u":2,"y":0.57},{"s":"d50","u":2.5,"y":0.58},{"s":"d50","u":3,"y":0.56},{"s":"d50","u":3.5,"y":0.57},{"s":"d50","u":4,"y":0.56},{"s":"d50","u":4.5,"y":0.55},{"s":"d50","u":5,"y":0.56},{"s":"d50","u":5.5,"y":0.55},{"s":"d50","u":6,"y":0.56},{"s":"d50","u":6.5,"y":0.55},{"s":"d50","u":7,"y":0.56},{"s":"d50","u":7.5,"y":0.55},{"s":"d50","u":8,"y":0.54},{"s":"d50","u":8.5,"y":0.55},{"s":"d50","u":9,"y":0.56},{"s":"d50","u":9.5,"y":0.57},{"s":"d50","u":10,"y":0.55},
      {"s":"d50","u":10.5,"y":0.55},{"s":"d50","u":11,"y":0.54},{"s":"d50","u":11.5,"y":0.55},{"s":"d50","u":12,"y":0.56},{"s":"d50","u":12.5,"y":0.57},{"s":"d50","u":13,"y":0.58},{"s":"d50","u":13.5,"y":0.59},{"s":"d50","u":14,"y":0.6},{"s":"d50","u":14.5,"y":0.61},{"s":"d50","u":15,"y":0.62},{"s":"d50","u":15.5,"y":0.63},{"s":"d50","u":16,"y":0.65},{"s":"d50","u":16.5,"y":0.66},{"s":"d50","u":17,"y":0.68},{"s":"d50","u":17.4,"y":0.69},{"s":"d50","u":17.6,"y":0.67},{"s":"d50","u":17.8,"y":0.62},{"s":"d50","u":18,"y":0.45},{"s":"d50","u":18.2,"y":0.3},{"s":"d50","u":18.4,"y":0.2},{"s":"d50","u":18.6,"y":0.14},{"s":"d50","u":18.8,"y":0.11},{"s":"d50","u":19,"y":0.09},{"s":"d50","u":19.2,"y":0.075},{"s":"d50","u":19.4,"y":0.06},{"s":"d50","u":19.5,"y":0.045},{"s":"d50","u":19.6,"y":0.07},{"s":"d50","u":19.7,"y":0.05},{"s":"d50","u":19.8,"y":0.035},{"s":"d50","u":19.9,"y":0.1},{"s":"d50","u":20,"y":0.04},
      {"s":"d50","u":20.25,"y":0.035},{"s":"d50","u":20.5,"y":0.05},{"s":"d50","u":20.75,"y":0.04},{"s":"d50","u":21,"y":0.055},{"s":"d50","u":21.25,"y":0.032},{"s":"d50","u":21.5,"y":0.045},{"s":"d50","u":21.75,"y":0.038},{"s":"d50","u":22,"y":0.05},{"s":"d50","u":22.25,"y":0.036},{"s":"d50","u":22.5,"y":0.042},{"s":"d50","u":22.75,"y":0.034},{"s":"d50","u":23,"y":0.048},{"s":"d50","u":23.25,"y":0.04},{"s":"d50","u":23.5,"y":0.036},{"s":"d50","u":23.75,"y":0.045},{"s":"d50","u":24,"y":0.038},{"s":"d50","u":24.25,"y":0.05},{"s":"d50","u":24.5,"y":0.035},{"s":"d50","u":24.75,"y":0.043},{"s":"d50","u":25,"y":0.04},{"s":"d50","u":25.25,"y":0.045},{"s":"d50","u":25.5,"y":0.038},{"s":"d50","u":25.75,"y":0.042},{"s":"d50","u":26,"y":0.034},{"s":"d50","u":26.25,"y":0.046},{"s":"d50","u":26.5,"y":0.04},{"s":"d50","u":26.75,"y":0.043},{"s":"d50","u":27,"y":0.036},{"s":"d50","u":27.25,"y":0.048},{"s":"d50","u":27.5,"y":0.038},{"s":"d50","u":27.75,"y":0.044},{"s":"d50","u":28,"y":0.037},{"s":"d50","u":28.25,"y":0.045},{"s":"d50","u":28.5,"y":0.04},{"s":"d50","u":28.75,"y":0.048},{"s":"d50","u":29,"y":0.036},{"s":"d50","u":29.25,"y":0.042},{"s":"d50","u":29.5,"y":0.035},{"s":"d50","u":29.75,"y":0.046},{"s":"d50","u":30,"y":0.03},
      {"s":"d50","u":30.1,"y":0.05},{"s":"d50","u":30.25,"y":0.035},{"s":"d50","u":30.4,"y":0.055},{"s":"d50","u":30.6,"y":0.04},{"s":"d50","u":30.8,"y":0.06},{"s":"d50","u":31,"y":0.045},{"s":"d50","u":31.2,"y":0.07},{"s":"d50","u":31.4,"y":0.06},{"s":"d50","u":31.6,"y":0.08},{"s":"d50","u":31.8,"y":0.075},{"s":"d50","u":32,"y":0.095},{"s":"d50","u":32.2,"y":0.1},{"s":"d50","u":32.4,"y":0.12},{"s":"d50","u":32.6,"y":0.14},{"s":"d50","u":32.8,"y":0.16},{"s":"d50","u":33,"y":0.18},{"s":"d50","u":33.2,"y":0.22},{"s":"d50","u":33.4,"y":0.3},{"s":"d50","u":33.6,"y":0.42},{"s":"d50","u":33.8,"y":0.52},{"s":"d50","u":34,"y":0.58},{"s":"d50","u":34.3,"y":0.6},{"s":"d50","u":34.6,"y":0.61},{"s":"d50","u":35,"y":0.6},{"s":"d50","u":35.5,"y":0.62},{"s":"d50","u":36,"y":0.61},{"s":"d50","u":36.5,"y":0.6},{"s":"d50","u":37,"y":0.59},{"s":"d50","u":37.5,"y":0.58},{"s":"d50","u":38,"y":0.57},{"s":"d50","u":38.5,"y":0.56},{"s":"d50","u":39,"y":0.55},{"s":"d50","u":39.5,"y":0.54},{"s":"d50","u":40,"y":0.53},
      {"s":"d50","u":40.5,"y":0.52},{"s":"d50","u":41,"y":0.5},{"s":"d50","u":41.5,"y":0.52},{"s":"d50","u":42,"y":0.51},{"s":"d50","u":42.5,"y":0.5},{"s":"d50","u":43,"y":0.49},{"s":"d50","u":43.5,"y":0.5},{"s":"d50","u":44,"y":0.51},{"s":"d50","u":44.5,"y":0.5},{"s":"d50","u":45,"y":0.49},{"s":"d50","u":45.5,"y":0.5},{"s":"d50","u":46,"y":0.51},{"s":"d50","u":46.5,"y":0.5},{"s":"d50","u":47,"y":0.5},{"s":"d50","u":47.5,"y":0.51},{"s":"d50","u":48,"y":0.5},{"s":"d50","u":48.5,"y":0.52},{"s":"d50","u":49,"y":0.51},{"s":"d50","u":49.5,"y":0.5},{"s":"d50","u":50,"y":0.5}
    ],
    "tlab": [{"u":3.1,"y":0.755,"lab":"50"},{"u":3.5,"y":0.27,"lab":"20"},{"u":25.5,"y":0.178,"lab":"20"},{"u":28.1,"y":0.027,"lab":"50"}],
    "ttitle": [{"u":4.4,"y":0.0079,"lab":"Time\u00a0\u00a0\u00a0/ min"},{"u":14.7,"y":0.0079,"lab":"Temperature / °C"},{"u":24.9,"y":0.0079,"lab":"Time / min"},{"u":34.7,"y":0.0079,"lab":"Temperature / °C"},{"u":45.1,"y":0.0085,"lab":"Time / min"}]
  },
  "spacing": 19,
  "bounds": "full",
  "vconcat": [
    {
      "spacing": 78,
      "bounds": "flush",
      "hconcat": [
        {
          "width": 177, "height": 175,
          "view": {"stroke": null},
          "title": {"text": "(a)", "dx": -28, "offset": 4},
          "layer": [
            {
              "data": {"name": "xrd"},
              "mark": {"type": "line", "strokeWidth": 4.5, "interpolate": "monotone"},
              "encoding": {
                "x": {"field": "x", "type": "quantitative", "scale": {"domain": [5, 50], "nice": false, "zero": false},
                      "axis": {"title": "2θ /\u00a0\u00a0°", "labelOverlap": false, "labelFlush": false, "values": [10,20,30,40,50], "format": "d", "tickSize": -5, "labelPadding": 12, "titlePadding": 15}},
                "y": {"field": "y", "type": "quantitative", "scale": {"domain": [0, 100], "nice": false},
                      "axis": {"title": "Intensity", "ticks": false, "labels": false, "titlePadding": 7}},
                "color": {"field": "s", "type": "nominal", "legend": null, "scale": {"domain": ["a0","a30","b20","b30","b40","b50","b100","d20","d30","d40","d50"], "range": ["#000000","#0000ff","#000000","#ff0000","#2cf52c","#0000ff","#9b0000","#000000","#ff0000","#108a10","#0000ff"]}}
              }
            },
            {
              "data": {"name": "xrdlab"},
              "mark": {"type": "text", "fontSize": 13},
              "encoding": {"x": {"field": "x", "type": "quantitative"}, "y": {"field": "y", "type": "quantitative"}, "text": {"field": "lab"}}
            }
          ]
        },
        {
          "spacing": 20,
          "bounds": "flush",
          "vconcat": [
            {"width": 1, "height": 1, "data": {"values": []}, "mark": "point", "encoding": {}},
            {
              "spacing": 30,
              "bounds": "flush",
              "hconcat": [
                {
                  "width": 173, "height": 171,
                  "view": {"stroke": null},
                  "title": {"text": "(b)", "dx": -30, "offset": 20},
                  "data": {"name": "dscb"},
                  "mark": {"type": "line", "strokeWidth": 3, "interpolate": "monotone"},
                  "encoding": {
                    "x": {"field": "x", "type": "quantitative", "scale": {"domain": [15, 60], "nice": false, "zero": false},
                          "axis": {"title": "Temperature\u00a0\u00a0/\u00a0\u00a0°C", "labelOverlap": false, "labelFlush": false, "values": [16,18,20,22,24,26,28,30,32,34,36,38,40,42,44,46,48,50,52,54,56,58,60], "labelExpr": "datum.value % 10 == 0 ? toString(datum.value) : ''", "titlePadding": 13}},
                    "y": {"field": "y", "type": "quantitative", "scale": {"domain": [0, 100], "nice": false},
                          "axis": {"title": "Heat flow\u00a0\u00a0/ a.u\u00a0\u00a0\u00a0\u00a0\u00a0\u00a0\u00a0\u00a0\u00a0Endo up", "ticks": false, "labels": false, "titlePadding": 13}},
                    "color": {"field": "s", "type": "nominal", "legend": null, "scale": {"domain": ["a0","a30","b20","b30","b40","b50","b100","d20","d30","d40","d50"], "range": ["#000000","#0000ff","#000000","#ff0000","#2cf52c","#0000ff","#9b0000","#000000","#ff0000","#108a10","#0000ff"]}}
                  }
                },
                {
                  "spacing": 0,
                  "bounds": "flush",
                  "vconcat": [
                    {
                      "width": 172, "height": 171,
                      "view": {"stroke": null},
                      "title": {"text": "(c)", "dx": -8, "offset": 2},
                      "layer": [
                        {
                          "data": {"name": "dscc"},
                          "mark": {"type": "line", "strokeWidth": 3, "interpolate": "monotone"},
                          "encoding": {
                            "x": {"field": "x", "type": "quantitative", "scale": {"domain": [5, 60], "nice": false, "zero": false},
                                  "axis": {"title": null, "labels": false, "values": [6,8,10,12,14,16,18,20,22,24,26,28,30,32,34,36,38,40,42,44,46,48,50,52,54,56,58,60]}},
                            "y": {"field": "y", "type": "quantitative", "scale": {"domain": [0, 100], "nice": false},
                                  "axis": {"title": null, "ticks": false, "labels": false}},
                            "color": {"field": "s", "type": "nominal", "legend": null, "scale": {"domain": ["a0","a30","b20","b30","b40","b50","b100","d20","d30","d40","d50"], "range": ["#000000","#0000ff","#000000","#ff0000","#2cf52c","#0000ff","#9b0000","#000000","#ff0000","#108a10","#0000ff"]}}
                          }
                        },
                        {
                          "data": {"name": "dsclab"},
                          "mark": {"type": "text", "fontSize": 13},
                          "encoding": {"x": {"field": "x", "type": "quantitative"}, "y": {"field": "y", "type": "quantitative"}, "text": {"field": "lab"}}
                        }
                      ]
                    },
                    {
                      "width": 172, "height": 1,
                      "view": {"stroke": null},
                      "data": {"name": "dsclab"},
                      "mark": {"type": "rule", "opacity": 0},
                      "encoding": {"x": {"field": "x", "type": "quantitative", "scale": {"domain": [5, 60], "nice": false, "zero": false},
                        "axis": {"title": "Temperature\u00a0\u00a0/\u00a0\u00a0°C", "ticks": false, "domain": false, "labelPadding": 7, "labelOverlap": false, "labelFlush": false, "values": [10,20,30,40,50,60], "format": "d", "titlePadding": 11}}}
                    }
                  ]
                }
              ]
            }
          ]
        }
      ]
    },
    {
      "spacing": 27,
      "bounds": "flush",
      "hconcat": [
        {"width": 1, "height": 1, "data": {"values": []}, "mark": "point", "encoding": {}},
        {
          "spacing": 11,
          "bounds": "flush",
          "vconcat": [
            {
              "width": 622, "height": 186,
              "view": {"stroke": "#8c8c8c"},
              "resolve": {"scale": {"x": "independent", "y": "independent"}, "axis": {"x": "independent", "y": "independent"}},
              "layer": [
                {
                  "layer": [
                    {
                      "data": {"name": "bnd"},
                      "mark": {"type": "rule", "color": "#8c8c8c", "strokeWidth": 1.5},
                      "encoding": {"x": {"field": "u", "type": "quantitative", "scale": {"domain": [0, 50], "nice": false, "zero": false},
                        "axis": {"title": null, "labels": false, "domainColor": "#8c8c8c", "tickColor": "#666",
                          "values": [0,0.5,1,1.5,2,2.5,3,3.5,4,4.5,5,5.5,6,6.5,7,7.5,8,8.5,9,9.5,10,10.25,10.75,11.25,11.75,12.25,12.75,13.25,13.75,14.25,14.75,15.25,15.75,16.25,16.75,17.25,17.75,18.25,18.75,19.25,19.75,20,20.5,21,21.5,22,22.5,23,23.5,24,24.5,25,25.5,26,26.5,27,27.5,28,28.5,29,29.5,30,30.25,30.75,31.25,31.75,32.25,32.75,33.25,33.75,34.25,34.75,35.25,35.75,36.25,36.75,37.25,37.75,38.25,38.75,39.25,39.75,40,40.5,41,41.5,42,42.5,43,43.5,44,44.5,45,45.5,46,46.5,47,47.5,48,48.5,49,49.5,50]}}}
                    },
                    {
                      "data": {"name": "dsh"},
                      "mark": {"type": "rule", "color": "#8c8c8c", "strokeWidth": 1.5, "strokeDash": [6, 3]},
                      "encoding": {"x": {"field": "u", "type": "quantitative"}}
                    },
                    {
                      "data": {"name": "gp"},
                      "mark": {"type": "line", "strokeWidth": 5},
                      "encoding": {
                        "x": {"field": "u", "type": "quantitative"},
                        "y": {"field": "g", "type": "quantitative", "scale": {"type": "log", "domain": [0.00192, 21.2], "nice": false},
                          "axis": {"title": "G′ / MPa", "titlePadding": 5, "labelPadding": 16, "labelOverlap": false, "labelFlush": false, "domainColor": "#8c8c8c", "tickColor": "#666",
                            "values": [0.002,0.003,0.004,0.005,0.006,0.007,0.008,0.009,0.01,0.02,0.03,0.04,0.05,0.06,0.07,0.08,0.09,0.1,0.2,0.3,0.4,0.5,0.6,0.7,0.8,0.9,1,2,3,4,5,6,7,8,9,10,20],
                            "labelExpr": "datum.value == 10 ? '10¹' : datum.value == 1 ? '10⁰' : datum.value == 0.1 ? '10⁻¹' : datum.value == 0.01 ? '10⁻²' : ''"}},
                        "color": {"field": "s", "type": "nominal", "legend": null, "scale": {"domain": ["a0","a30","b20","b30","b40","b50","b100","d20","d30","d40","d50"], "range": ["#000000","#0000ff","#000000","#ff0000","#2cf52c","#0000ff","#9b0000","#000000","#ff0000","#108a10","#0000ff"]}}
                      }
                    },
                    {
                      "data": {"name": "glab"},
                      "mark": {"type": "text", "fontSize": 13},
                      "encoding": {"x": {"field": "u", "type": "quantitative"}, "y": {"field": "g", "type": "quantitative"}, "text": {"field": "lab"}}
                    },
                    {
                      "data": {"name": "gtop"},
                      "transform": [{"filter": "datum.k == 'c'"}],
                      "mark": {"type": "text", "fontSize": 15},
                      "encoding": {"x": {"field": "u", "type": "quantitative"}, "y": {"field": "g", "type": "quantitative"}, "text": {"field": "lab"}}
                    },
                    {
                      "data": {"name": "gtop"},
                      "transform": [{"filter": "datum.k == 'T'"}],
                      "mark": {"type": "text", "fontSize": 16, "fontWeight": "normal"},
                      "encoding": {"x": {"field": "u", "type": "quantitative"}, "y": {"field": "g", "type": "quantitative"}, "text": {"field": "lab"}}
                    },
                    {
                      "data": {"name": "gtop"},
                      "transform": [{"filter": "datum.k == 'sub'"}],
                      "mark": {"type": "text", "fontSize": 11, "fontWeight": "normal"},
                      "encoding": {"x": {"field": "u", "type": "quantitative"}, "y": {"field": "g", "type": "quantitative"}, "text": {"field": "lab"}}
                    },
                    {
                      "data": {"name": "garrow"},
                      "mark": {"type": "rule", "color": "#111", "strokeWidth": 2},
                      "encoding": {"x": {"field": "u", "type": "quantitative"}, "y": {"field": "g", "type": "quantitative"}, "y2": {"field": "g2"}}
                    },
                    {
                      "data": {"name": "garrow"},
                      "mark": {"type": "point", "shape": "M-0.42,-1L0,0L0.42,-1", "size": 500, "filled": false, "strokeWidth": 2, "color": "#111", "opacity": 1},
                      "encoding": {"x": {"field": "u", "type": "quantitative"}, "y": {"field": "g2", "type": "quantitative"}}
                    }
                  ]
                },
                {
                  "layer": [
                    {
                      "data": {"name": "ins"},
                      "mark": {"type": "line", "strokeWidth": 4.5},
                      "encoding": {
                        "x": {"field": "t", "type": "quantitative", "scale": {"domain": [0, 10], "range": [287, 353], "nice": false, "zero": false},
                          "axis": {"orient": "bottom", "offset": -36, "title": null, "tickSize": -3, "labelPadding": 8, "labelFontSize": 11, "labelOverlap": false, "labelFlush": false, "domainColor": "#aaaaaa", "tickColor": "#999999",
                            "values": [0,0.5,1,1.5,2,2.5,3,3.5,4,4.5,5,5.5,6,6.5,7,7.5,8,8.5,9,9.5,10],
                            "labelExpr": "indexof([2,4,6,8], datum.value) >= 0 ? toString(datum.value) : ''"}},
                        "y": {"field": "g", "type": "quantitative", "scale": {"type": "log", "domain": [1, 20.4], "range": [150, 52], "nice": false},
                          "axis": {"orient": "left", "offset": -287, "title": null, "tickSize": -3, "labelPadding": 9, "labelFontSize": 11, "labelOverlap": false, "labelFlush": false, "domainColor": "#aaaaaa", "tickColor": "#999999",
                            "values": [1,2,3,4,5,6,7,8,9,10,20],
                            "labelExpr": "datum.value == 1 ? '10⁰' : datum.value == 10 ? '10¹' : ''"}},
                        "color": {"field": "s", "type": "nominal", "legend": null, "scale": {"domain": ["a0","a30","b20","b30","b40","b50","b100","d20","d30","d40","d50"], "range": ["#000000","#0000ff","#000000","#ff0000","#2cf52c","#0000ff","#9b0000","#000000","#ff0000","#108a10","#0000ff"]}}
                      }
                    },
                    {
                      "data": {"name": "insarrow"},
                      "mark": {"type": "rule", "color": "#111", "strokeWidth": 2},
                      "encoding": {"x": {"field": "t", "type": "quantitative"}, "y": {"field": "g", "type": "quantitative"}, "x2": {"field": "t2"}, "y2": {"field": "g2"}}
                    },
                    {
                      "data": {"name": "insarrow"},
                      "mark": {"type": "point", "shape": "M-0.42,1L0,0L0.42,1", "size": 400, "filled": false, "strokeWidth": 2, "color": "#111", "opacity": 1},
                      "encoding": {"x": {"field": "t2", "type": "quantitative"}, "y": {"field": "g2", "type": "quantitative"}}
                    },
                    {
                      "data": {"name": "inslab"},
                      "mark": {"type": "text", "fontSize": 12},
                      "encoding": {"x": {"field": "t", "type": "quantitative"}, "y": {"field": "g", "type": "quantitative"}, "text": {"field": "lab"}}
                    }
                  ]
                }
              ]
            },
            {
              "spacing": 0,
              "bounds": "flush",
              "vconcat": [
                {
                  "width": 622, "height": 186,
                  "view": {"stroke": "#8c8c8c"},
                  "layer": [
                    {
                      "data": {"name": "bnd"},
                      "mark": {"type": "rule", "color": "#8c8c8c", "strokeWidth": 1.5},
                      "encoding": {"x": {"field": "u", "type": "quantitative", "scale": {"domain": [0, 50], "nice": false, "zero": false},
                        "axis": {"title": null, "labels": false, "domainColor": "#8c8c8c", "tickColor": "#666",
                          "values": [0,0.5,1,1.5,2,2.5,3,3.5,4,4.5,5,5.5,6,6.5,7,7.5,8,8.5,9,9.5,10,10.25,10.75,11.25,11.75,12.25,12.75,13.25,13.75,14.25,14.75,15.25,15.75,16.25,16.75,17.25,17.75,18.25,18.75,19.25,19.75,20,20.5,21,21.5,22,22.5,23,23.5,24,24.5,25,25.5,26,26.5,27,27.5,28,28.5,29,29.5,30,30.25,30.75,31.25,31.75,32.25,32.75,33.25,33.75,34.25,34.75,35.25,35.75,36.25,36.75,37.25,37.75,38.25,38.75,39.25,39.75,40,40.5,41,41.5,42,42.5,43,43.5,44,44.5,45,45.5,46,46.5,47,47.5,48,48.5,49,49.5,50]}}}
                    },
                    {
                      "data": {"name": "dsh"},
                      "mark": {"type": "rule", "color": "#8c8c8c", "strokeWidth": 1.5, "strokeDash": [6, 3]},
                      "encoding": {"x": {"field": "u", "type": "quantitative"}}
                    },
                    {
                      "data": {"name": "td"},
                      "mark": {"type": "line", "strokeWidth": 2.5},
                      "encoding": {
                        "x": {"field": "u", "type": "quantitative"},
                        "y": {"field": "y", "type": "quantitative", "scale": {"type": "log", "domain": [0.0197, 1], "nice": false},
                          "axis": {"title": "tan δ", "titleFontStyle": "italic", "titlePadding": 5, "labelPadding": 16, "labelOverlap": false, "labelFlush": false, "domainColor": "#8c8c8c", "tickColor": "#666",
                            "values": [0.02,0.03,0.04,0.05,0.06,0.07,0.08,0.09,0.1,0.2,0.3,0.4,0.5,0.6,0.7,0.8,0.9,1],
                            "labelExpr": "datum.value == 1 ? '10⁰' : datum.value == 0.1 ? '10⁻¹' : ''"}},
                        "color": {"field": "s", "type": "nominal", "legend": null, "scale": {"domain": ["a0","a30","b20","b30","b40","b50","b100","d20","d30","d40","d50"], "range": ["#000000","#0000ff","#000000","#ff0000","#2cf52c","#0000ff","#9b0000","#000000","#ff0000","#108a10","#0000ff"]}}
                      }
                    },
                    {
                      "data": {"name": "tlab"},
                      "mark": {"type": "text", "fontSize": 13},
                      "encoding": {"x": {"field": "u", "type": "quantitative"}, "y": {"field": "y", "type": "quantitative"}, "text": {"field": "lab"}}
                    },
                    {
                      "data": {"name": "ttitle"},
                      "mark": {"type": "text", "fontSize": 13},
                      "encoding": {"x": {"field": "u", "type": "quantitative"}, "y": {"field": "y", "type": "quantitative"}, "text": {"field": "lab"}}
                    }
                  ]
                },
                {
                  "width": 622, "height": 1,
                  "view": {"stroke": null},
                  "data": {"name": "bnd"},
                  "mark": {"type": "rule", "opacity": 0},
                  "encoding": {"x": {"field": "u", "type": "quantitative", "scale": {"domain": [0, 50], "nice": false, "zero": false},
                    "axis": {"title": null, "ticks": false, "domain": false, "labelPadding": 8, "labelOverlap": false, "labelFlush": false,
                      "values": [0,2,4,6,8,11.25,13.75,16.25,18.75,22,24,26,28,31.25,33.75,36.25,38.75,42,44,46,48,50],
                      "labelExpr": "datum.value==0?'0':datum.value==2?'2':datum.value==4?'4':datum.value==6?'6':datum.value==8?'8':datum.value==11.25?'60':datum.value==13.75?'50':datum.value==16.25?'40':datum.value==18.75?'30':datum.value==22?'2':datum.value==24?'4':datum.value==26?'6':datum.value==28?'8':datum.value==31.25?'30':datum.value==33.75?'40':datum.value==36.25?'50':datum.value==38.75?'60':datum.value==42?'2':datum.value==44?'4':datum.value==46?'6':datum.value==48?'8':datum.value==50?'10':''"}}}
                }
              ]
            }
          ]
        }
      ]
    }
  ]
}
